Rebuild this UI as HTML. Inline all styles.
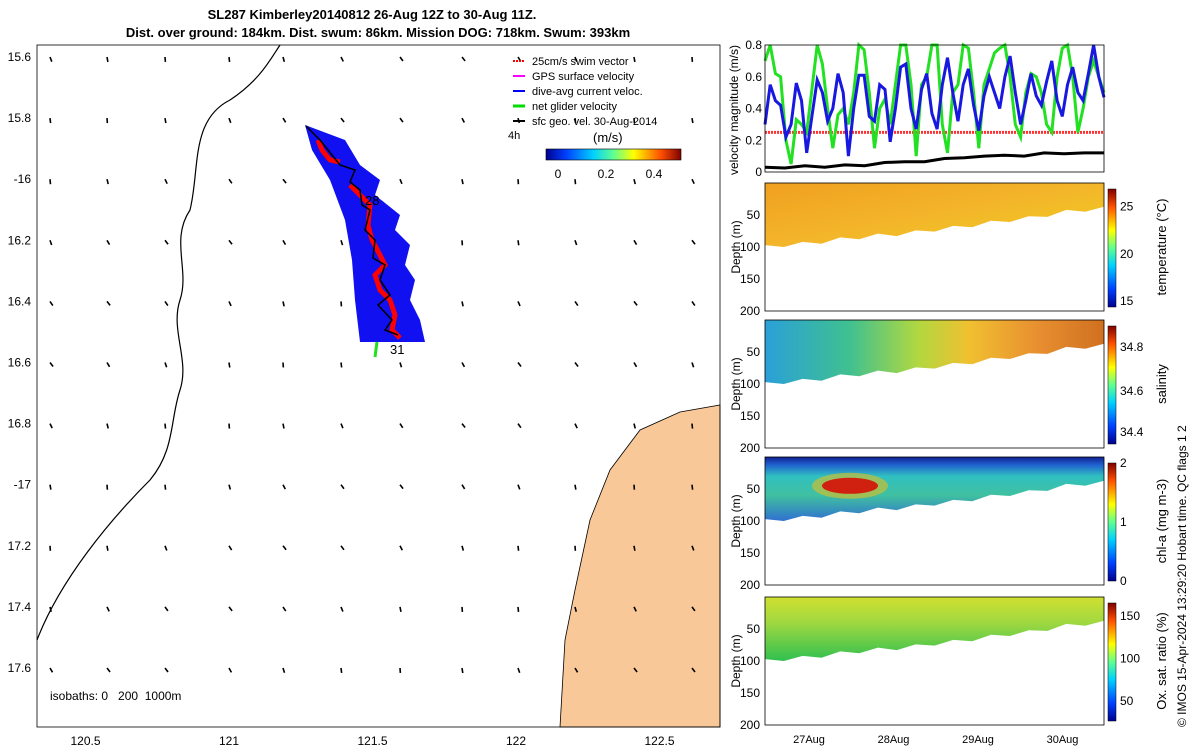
<!DOCTYPE html>
<html><head><meta charset="utf-8"><style>
body{margin:0;background:#fff;font-family:"Liberation Sans",sans-serif}
svg text{font-family:"Liberation Sans",sans-serif}
</style></head><body>
<svg id="s" width="1200" height="750" xmlns="http://www.w3.org/2000/svg">
<defs>
<linearGradient id="gT" x1="0" y1="0" x2="1" y2="1"><stop offset="0" stop-color="#f0a020"/><stop offset="0.5" stop-color="#f3b52a"/><stop offset="1" stop-color="#f0d020"/></linearGradient>
<linearGradient id="gS" x1="0" y1="0" x2="1" y2="0"><stop offset="0" stop-color="#2aa0d8"/><stop offset="0.25" stop-color="#40c090"/><stop offset="0.45" stop-color="#b0d840"/><stop offset="0.6" stop-color="#f0c030"/><stop offset="0.8" stop-color="#e89030"/><stop offset="1" stop-color="#d07020"/></linearGradient>
<linearGradient id="gC" x1="0" y1="0" x2="0" y2="1"><stop offset="0" stop-color="#102090"/><stop offset="0.12" stop-color="#2060d0"/><stop offset="0.3" stop-color="#30c0c0"/><stop offset="0.6" stop-color="#40c0a0"/><stop offset="1" stop-color="#3070d0"/></linearGradient>
<linearGradient id="gO" x1="0" y1="0" x2="0" y2="1"><stop offset="0" stop-color="#d0e030"/><stop offset="0.4" stop-color="#a0d840"/><stop offset="1" stop-color="#30c050"/></linearGradient>
<linearGradient id="cbJ" x1="0" y1="1" x2="0" y2="0"><stop offset="0" stop-color="#00008f"/><stop offset="0.15" stop-color="#0040ff"/><stop offset="0.35" stop-color="#00d0ff"/><stop offset="0.5" stop-color="#60ff90"/><stop offset="0.65" stop-color="#ffff00"/><stop offset="0.85" stop-color="#ff5000"/><stop offset="1" stop-color="#800000"/></linearGradient>
<linearGradient id="cbH" x1="0" y1="0" x2="1" y2="0"><stop offset="0" stop-color="#00008f"/><stop offset="0.15" stop-color="#0040ff"/><stop offset="0.35" stop-color="#00d0ff"/><stop offset="0.5" stop-color="#60ff90"/><stop offset="0.65" stop-color="#ffff00"/><stop offset="0.85" stop-color="#ff5000"/><stop offset="1" stop-color="#800000"/></linearGradient>
</defs>
<text x="372" y="19" font-size="13" font-weight="bold" text-anchor="middle">SL287 Kimberley20140812 26-Aug 12Z to 30-Aug 11Z.</text>
<text x="378" y="37" font-size="13" font-weight="bold" text-anchor="middle">Dist. over ground: 184km. Dist. swum: 86km. Mission DOG: 718km. Swum: 393km</text>
<g id="map">
<path d="M560,727 L565,640 L575,590 L590,520 L610,470 L640,430 L680,412 L720,405 L720,727 Z" fill="#f8c898" stroke="#000" stroke-width="0.8"/>
<path d="M37,640 C60,580 110,520 150,480 C175,450 170,420 180,390 C190,360 170,330 180,300 C190,270 170,240 190,210 C200,170 190,120 230,100 C260,80 270,60 280,45" fill="none" stroke="#000" stroke-width="1.2"/>
<g id="arrows"></g>
<g>
<path d="M305,125 L345,140 L360,165 L380,180 L375,195 L400,215 L395,230 L410,245 L405,265 L415,280 L410,300 L420,320 L425,342 L360,342 L355,300 L352,260 L345,220 L330,180 L312,150 Z" fill="#1010f0"/>
<path d="M318,140 L322,150 L330,160 L340,162 M350,185 L360,195 L370,205 L368,225 L372,240 L380,255 L385,265 L375,275 L380,290 L390,300 L395,315 L392,330 L400,338" stroke="#f00" stroke-width="5" fill="none"/>
<path d="M306,126 L320,140 L328,150 L340,165 L355,170 L350,182 L360,190 L362,205 L370,210 L365,230 L375,240 L373,258 L385,265 L380,280 L390,295 L378,305 L392,320 L385,330 L398,335" stroke="#000" stroke-width="1.5" fill="none"/>
<path d="M377,342 L375,357" stroke="#20e020" stroke-width="3"/>
<text x="365" y="205" font-size="13">28</text><text x="390" y="354" font-size="13">31</text>
</g>
<text x="50" y="700" font-size="12" xml:space="preserve">isobaths: 0   200  1000m</text>
<g font-size="11">
<line x1="513" y1="61" x2="525" y2="61" stroke="#f00" stroke-width="2" stroke-dasharray="2 1"/><text x="532" y="65">25cm/s swim vector</text>
<line x1="513" y1="76" x2="525" y2="76" stroke="#f0f" stroke-width="2"/><text x="532" y="80">GPS surface velocity</text>
<line x1="513" y1="91" x2="525" y2="91" stroke="#00f" stroke-width="2"/><text x="532" y="95">dive-avg current veloc.</text>
<line x1="513" y1="106" x2="525" y2="106" stroke="#0d0" stroke-width="3"/><text x="532" y="110">net glider velocity</text>
<line x1="513" y1="121" x2="525" y2="121" stroke="#000" stroke-width="2"/><text x="532" y="125">sfc geo. vel. 30-Aug-2014</text>
<text x="508" y="139">4h</text><text x="593" y="142" font-size="13">(m/s)</text>
<rect x="546" y="149" width="135" height="11" fill="url(#cbH)" stroke="#000" stroke-width="0.6"/>
<text x="558" y="178" font-size="12" text-anchor="middle">0</text><text x="606" y="178" font-size="12" text-anchor="middle">0.2</text><text x="654" y="178" font-size="12" text-anchor="middle">0.4</text>
</g>
<rect x="37" y="45" width="683" height="682" fill="none" stroke="#000" stroke-width="0.8"/>
<g id="mapticks" font-size="12"></g>
</g>
<g id="vel"></g>
<g id="sec"></g>
<text x="1186" y="727" font-size="12" transform="rotate(-90 1186 727)">© IMOS 15-Apr-2024 13:29:20 Hobart time. QC flags 1  2</text>
</svg>
<script>
const NS="http://www.w3.org/2000/svg";
function mk(p,t,a){const e=document.createElementNS(NS,t);for(const k in a)e.setAttribute(k,a[k]);p.appendChild(e);return e;}
const lonTicks=[120.5,121,121.5,122,122.5];
const latTicks=[15.6,15.8,16,16.2,16.4,16.6,16.8,17,17.2,17.4,17.6];
const latLabels=['15.6','15.8','-16','16.2','16.4','16.6','16.8','-17','17.2','17.4','17.6'];
const lonX=v=>229+(v-121)*287, latY=v=>57+(v-15.6)*305.5;
const mt=document.getElementById('mapticks');
lonTicks.forEach(v=>{const t=mk(mt,'text',{x:lonX(v),y:745,'text-anchor':'middle'});t.textContent=v;
});
latTicks.forEach((v,i)=>{const t=mk(mt,'text',{x:31,y:latY(v)+4,'text-anchor':'end'});t.textContent=latLabels[i];
});
const ar=document.getElementById('arrows');
const cols=[50,107,165,229,283,341,400,462,518,575,634,692];
latTicks.forEach((lat,r)=>cols.forEach((x,c)=>{const y=latY(lat);const ang=1.2+0.3*Math.sin(r+c*0.7);const L=5;
const l=mk(ar,'line',{x1:x,y1:y,x2:x+L*Math.cos(ang),y2:y+L*Math.sin(ang),stroke:'#000','stroke-width':1.6});
}));
const blue=[0.3,0.55,0.45,0.42,0.22,0.3,0.56,0.45,0.12,0.35,0.58,0.5,0.32,0.4,0.62,0.5,0.1,0.4,0.61,0.61,0.35,0.32,0.55,0.52,0.19,0.4,0.66,0.68,0.4,0.27,0.52,0.62,0.37,0.27,0.55,0.72,0.5,0.32,0.55,0.65,0.42,0.26,0.48,0.6,0.5,0.4,0.6,0.73,0.5,0.3,0.45,0.62,0.48,0.42,0.57,0.7,0.45,0.35,0.55,0.66,0.5,0.45,0.62,0.8,0.6,0.47];
const green=[0.7,0.8,0.62,0.6,0.2,0.05,0.33,0.3,0.25,0.52,0.8,0.68,0.4,0.15,0.36,0.4,0.3,0.5,0.8,0.77,0.5,0.15,0.4,0.46,0.3,0.55,0.8,0.8,0.55,0.1,0.55,0.6,0.8,0.8,0.3,0.12,0.5,0.55,0.8,0.78,0.5,0.15,0.55,0.65,0.75,0.78,0.8,0.6,0.3,0.22,0.5,0.62,0.6,0.5,0.3,0.25,0.6,0.78,0.8,0.6,0.25,0.4,0.6,0.7,0.6,0.5];
const black=[0.03,0.025,0.04,0.03,0.045,0.04,0.06,0.065,0.065,0.085,0.09,0.1,0.105,0.1,0.12,0.115,0.12,0.12];
const swim=[0.25];
const vel=document.getElementById('vel');
const vx=(i,n)=>765+i*(339/(n-1)), vy=v=>172-v*158.75;
function poly(arr,col,w,name){const p=arr.map((v,i)=>vx(i,arr.length).toFixed(1)+','+vy(v).toFixed(1)).join(' ');
const e=mk(vel,'polyline',{points:p,fill:'none',stroke:col,'stroke-width':w});}
mk(vel,'line',{x1:765,x2:1104,y1:vy(swim[0]),y2:vy(swim[0]),stroke:'#f33','stroke-width':3,'stroke-dasharray':'2 1'});
poly(green,'#22e022',3,'net-glider-velocity-line');
poly(blue,'#1818e0',3,'dive-avg-current-line');
poly(black,'#000',3,'sfc-geo-velocity-line');
mk(vel,'rect',{x:765,y:45,width:339,height:127,fill:'none',stroke:'#000','stroke-width':0.8});
const vTicks=[0,0.2,0.4,0.6,0.8];
vTicks.forEach(v=>{const t=mk(vel,'text',{x:762,y:vy(v)+4,'font-size':12,'text-anchor':'end'});t.textContent=v;
});
mk(vel,'text',{x:738,y:110,'font-size':12,'text-anchor':'middle',transform:'rotate(-90 738 110)'}).textContent='velocity magnitude (m/s)';
const sec=document.getElementById('sec');
const panels=[{top:183,fill:'url(#gT)',cb:['15','20','25'],cbv:[0.05,0.45,0.85],lab:'temperature (°C)'},
{top:320,fill:'url(#gS)',cb:['34.4','34.6','34.8'],cbv:[0.1,0.45,0.82],lab:'salinity'},
{top:457,fill:'url(#gC)',cb:['0','1','2'],cbv:[0,0.5,1],lab:'chl-a (mg m-3)'},
{top:597,fill:'url(#gO)',cb:['50','100','150'],cbv:[0.17,0.53,0.89],lab:'Ox. sat. ratio (%)'}];
const depthTicks=[50,100,150,200];
const bottomDepth=[100,97,95,92,88,85,82,80,77,73,70,66,62,58,55,50,45,42,40];
panels.forEach((p,pi)=>{const H=128,dy=d=>p.top+d*H/200;
const g=mk(sec,'g',{});
let pts='765,'+p.top+' 1104,'+p.top+' ';
for(let i=bottomDepth.length-1;i>=0;i--)pts+=(765+i*339/(bottomDepth.length-1)).toFixed(1)+','+dy(bottomDepth[i]+(i%2?3:-3)).toFixed(1)+' ';
mk(g,'polygon',{points:pts,fill:p.fill});
if(pi==2){mk(g,'ellipse',{cx:850,cy:dy(45),rx:38,ry:13,fill:'#e0c020',opacity:0.6});mk(g,'ellipse',{cx:850,cy:dy(45),rx:28,ry:8,fill:'#d02010'});}
mk(g,'rect',{x:765,y:p.top,width:339,height:H,fill:'none',stroke:'#000','stroke-width':0.8});
depthTicks.forEach(d=>{const t=mk(g,'text',{x:760,y:dy(d)+4,'font-size':12,'text-anchor':'end'});t.textContent=d;
});
mk(g,'text',{x:740,y:p.top+64,'font-size':12,'text-anchor':'middle',transform:'rotate(-90 740 '+(p.top+64)+')'}).textContent='Depth (m)';
mk(g,'rect',{x:1108,y:p.top+6,width:8,height:H-10,fill:'url(#cbJ)',stroke:'#000','stroke-width':0.5});
p.cb.forEach((c,i)=>{const t=mk(g,'text',{x:1120,y:p.top+H-4-p.cbv[i]*(H-10)+4,'font-size':12});t.textContent=c;});
mk(g,'text',{x:1166,y:p.top+64,'font-size':13,'text-anchor':'middle',transform:'rotate(-90 1166 '+(p.top+64)+')'}).textContent=p.lab;
});
const days=['27Aug','28Aug','29Aug','30Aug'];
days.forEach((d,i)=>{const t=mk(sec,'text',{x:809+i*84.5,y:743,'font-size':11,'text-anchor':'middle'});t.textContent=d;
});
</script>
</body></html>
